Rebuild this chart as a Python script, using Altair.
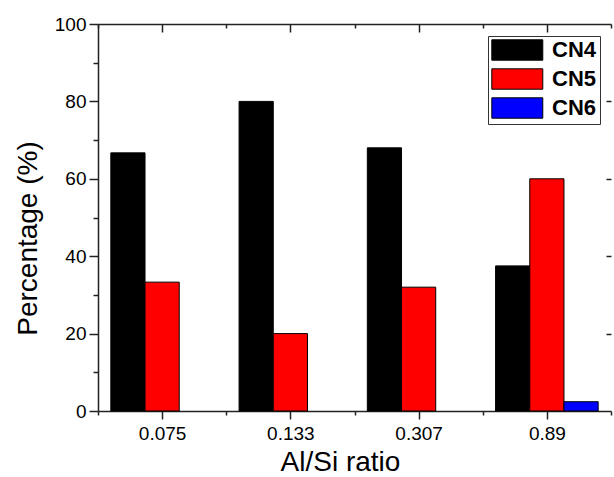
import altair as alt
import pandas as pd

ratios = ["0.075", "0.133", "0.307", "0.89"]
series = ["CN4", "CN5", "CN6"]
cn4 = [66.7, 80.0, 68.0, 37.5]
cn5 = [33.3, 20.0, 32.0, 60.0]
cn6 = [0.0, 0.0, 0.0, 2.4]
colors = ["#000000", "#FF0000", "#0000FF"]
y_ticks = list(range(0, 101, 10))
right_ticks = [20, 40, 60, 80]

FONT = "Liberation Sans"
AX = "#222222"

rows = []
for s, vals in zip(series, [cn4, cn5, cn6]):
    for r, v in zip(ratios, vals):
        if v > 0:
            rows.append({"ratio": r, "series": s, "value": v})
df = pd.DataFrame(rows)

n = len(ratios)
pos_vals = [0.5 + 0.5 * i for i in range(2 * n + 1)]
label_expr = " : ".join(f"datum.value == {i + 1} ? '{r}'" for i, r in enumerate(ratios)) + " : ''"
frame_df = pd.DataFrame({"px": [pos_vals[0], pos_vals[-1]], "py": [0, 100]})
xscale = alt.Scale(domain=[0.5, n + 0.5], nice=False, zero=False)

bars = alt.Chart(df).mark_bar(stroke="black", strokeWidth=1).encode(
    x=alt.X("ratio:N", sort=ratios, axis=None,
            scale=alt.Scale(domain=ratios, paddingInner=0.2, paddingOuter=0.1)),
    xOffset=alt.XOffset("series:N", sort=series,
                        scale=alt.Scale(domain=series, paddingInner=0, paddingOuter=0)),
    y=alt.Y("value:Q", scale=alt.Scale(domain=[0, 100], nice=False),
            axis=alt.Axis(values=y_ticks,
                          labelExpr="datum.value % 20 === 0 ? datum.label : ''",
                          tickSize={"condition": {"test": "datum.value % 20 === 0", "value": 9}, "value": 5},
                          title="Percentage (%)", titleFontSize=28, titleFontWeight="normal",
                          titleY=214, titlePadding=12, labelFontSize=19, labelPadding=3)),
    color=alt.Color("series:N", sort=series,
                    scale=alt.Scale(domain=series, range=colors),
                    legend=alt.Legend(title=None, orient="none", legendX=390, legendY=12,
                                      symbolType="M-1,-1H4V1H-1Z", symbolSize=416,
                                      symbolStrokeColor="black", symbolStrokeWidth=1,
                                      labelFontSize=22, labelFontWeight="bold", labelFont=FONT,
                                      labelColor="black", labelOffset=39, rowPadding=3,
                                      padding=3, strokeColor="#333333", fillColor="white")),
)

bottom_right = alt.Chart(frame_df).mark_point(opacity=0).encode(
    x=alt.X("px:Q", scale=xscale,
            axis=alt.Axis(orient="bottom", values=pos_vals, labelExpr=label_expr,
                          labelOverlap=False, labelFlush=False,
                          tickSize={"condition": {"test": "datum.value % 1 === 0", "value": 8}, "value": 4},
                          title="Al/Si ratio", titleFontSize=28, titleFontWeight="normal",
                          titleX=242, titlePadding=5, labelFontSize=19, labelPadding=5)),
    y=alt.Y("py:Q", scale=alt.Scale(domain=[0, 100], nice=False),
            axis=alt.Axis(orient="right", values=right_ticks, labels=False, domain=False,
                          tickSize={"condition": {"test": "datum.value > 0", "value": -5}, "value": -5},
                          title=None)),
)

top = alt.Chart(frame_df).mark_point(opacity=0).encode(
    x=alt.X("px:Q", scale=xscale,
            axis=alt.Axis(orient="top", values=pos_vals, labels=False, title=None,
                          tickSize={"condition": {"test": "datum.value % 1 === 0", "value": -8}, "value": -4})),
    y=alt.value(0),
)

chart = alt.layer(bars, bottom_right, top).resolve_scale(
    x="independent", y="independent"
).properties(
    width=513, height=387,
    autosize=alt.AutoSizeParams(type="none"),
    padding={"left": 98, "top": 24, "right": 3, "bottom": 66},
).configure_view(stroke=None).configure_axis(
    domainColor=AX, domainWidth=1.5, tickColor=AX, tickWidth=1.5,
    labelFont=FONT, titleFont=FONT, labelColor="black", titleColor="black", grid=False,
)

chart.save("out.html", embed_options={"renderer": "svg", "actions": False})
